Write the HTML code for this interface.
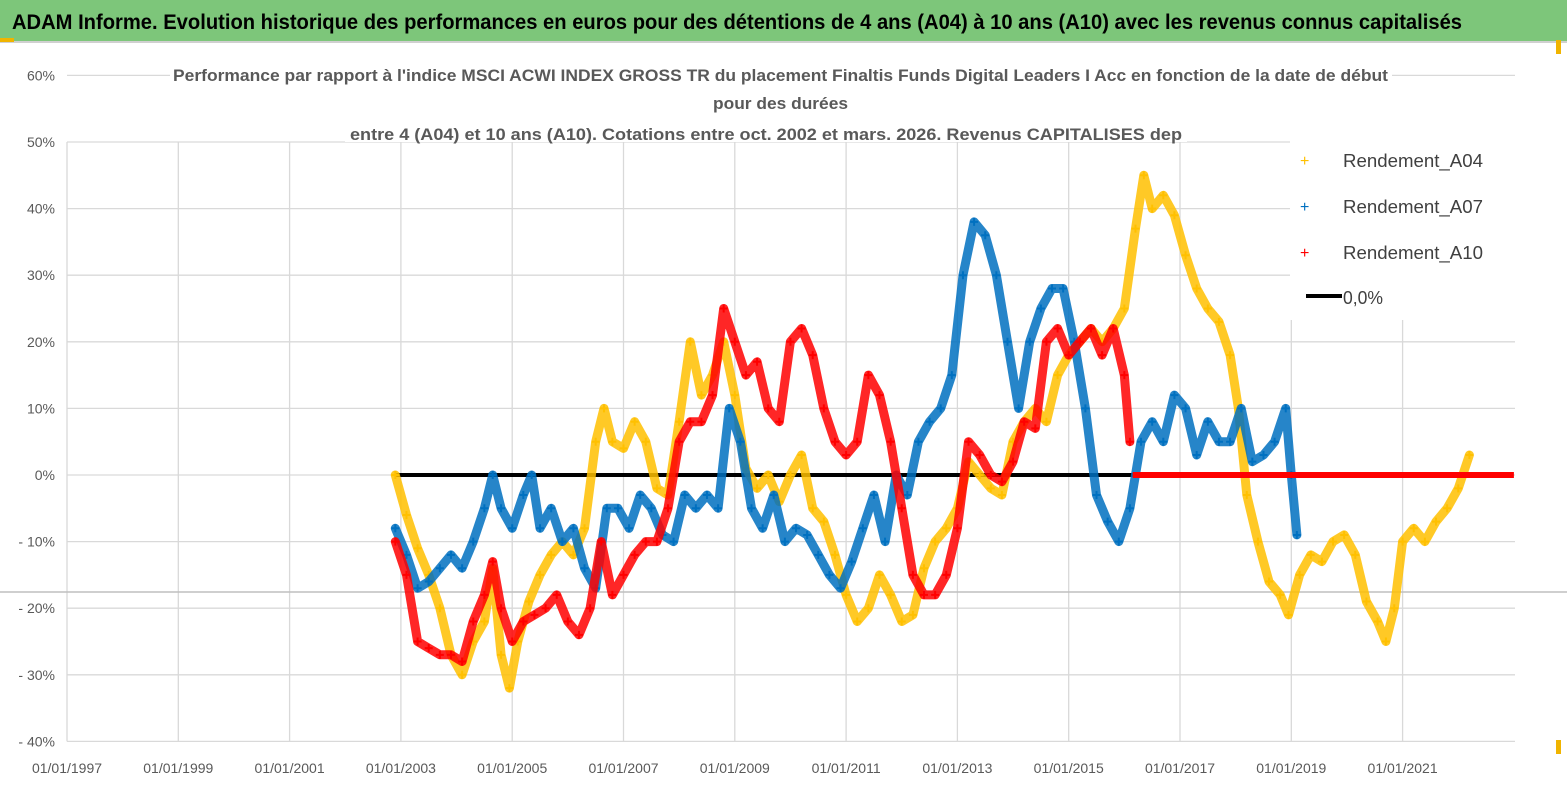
<!DOCTYPE html>
<html><head><meta charset="utf-8"><style>
body{margin:0;background:#fff;width:1567px;height:790px;overflow:hidden;font-family:"Liberation Sans",sans-serif}
svg{display:block}
</style></head><body>
<svg id="chart" width="1567" height="790">
<rect x="0" y="0" width="1567" height="790" fill="#fff"/>
<rect x="0" y="0" width="1567" height="41" fill="#7dc67a"/>
<line x1="0" y1="42" x2="1567" y2="42" stroke="#d0d0d0" stroke-width="2"/>
<rect x="0" y="38" width="14" height="4" fill="#f0b400"/>
<text x="12" y="29" font-size="21" font-weight="bold" fill="#000" textLength="1450" lengthAdjust="spacingAndGlyphs">ADAM Informe. Evolution historique des performances en euros pour des détentions de 4 ans (A04) à 10 ans (A10) avec les revenus connus capitalisés</text>
<g id="grid"></g>
<line x1="0" y1="592" x2="1567" y2="592" stroke="#bfbfbf" stroke-width="1.5"/>
<rect x="170" y="60" width="1222" height="20" fill="#fff"/>
<rect x="700" y="88" width="160" height="22" fill="#fff"/>
<rect x="345" y="120" width="842" height="22" fill="#fff"/>
<text x="173" y="81" font-size="17" font-weight="bold" fill="#595959" textLength="1215" lengthAdjust="spacingAndGlyphs">Performance par rapport à l'indice MSCI ACWI INDEX GROSS TR  du placement Finaltis Funds Digital Leaders I Acc en fonction de la date de début</text>
<text x="713" y="109" font-size="17" font-weight="bold" fill="#595959" textLength="135" lengthAdjust="spacingAndGlyphs">pour des durées</text>
<text x="350" y="140" font-size="17" font-weight="bold" fill="#595959" textLength="832" lengthAdjust="spacingAndGlyphs">entre 4 (A04) et 10 ans (A10). Cotations entre oct. 2002 et mars. 2026. Revenus CAPITALISES dep</text>
<g id="yaxis"></g><g id="xaxis"></g>
<g id="series"></g>
<g id="legend">
<rect x="1290" y="140" width="270" height="180" fill="#fff"/>
<text x="1300" y="166" font-size="16" fill="#ffc000">+</text>
<text x="1343" y="167" font-size="18" fill="#404040" textLength="140" lengthAdjust="spacingAndGlyphs">Rendement_A04</text>
<text x="1300" y="212" font-size="16" fill="#0070c0">+</text>
<text x="1343" y="213" font-size="18" fill="#404040" textLength="140" lengthAdjust="spacingAndGlyphs">Rendement_A07</text>
<text x="1300" y="258" font-size="16" fill="#ff0000">+</text>
<text x="1343" y="259" font-size="18" fill="#404040" textLength="140" lengthAdjust="spacingAndGlyphs">Rendement_A10</text>
<line x1="1306" y1="296" x2="1342" y2="296" stroke="#000" stroke-width="4"/>
<text x="1343" y="304" font-size="18" fill="#404040" textLength="40" lengthAdjust="spacingAndGlyphs">0,0%</text>
</g>
<rect x="1556" y="40" width="5" height="14" fill="#f0b400"/>
<rect x="1556" y="740" width="5" height="14" fill="#f0b400"/>
</svg>
<script>
const xTickYears=[1997,1999,2001,2003,2005,2007,2009,2011,2013,2015,2017,2019,2021];
const yTicks=[60,50,40,30,20,10,0,-10,-20,-30,-40];
const yTickLabels=["60%","50%","40%","30%","20%","10%","0%","-10%","-20%","-30%","-40%"];
const a04Years=[2002.9,2003.1,2003.3,2003.5,2003.7,2003.9,2004.1,2004.3,2004.5,2004.65,2004.8,2004.95,2005.1,2005.3,2005.5,2005.7,2005.9,2006.1,2006.3,2006.5,2006.65,2006.8,2007.0,2007.2,2007.4,2007.6,2007.8,2008.0,2008.2,2008.4,2008.6,2008.8,2009.0,2009.2,2009.4,2009.6,2009.8,2010.0,2010.2,2010.4,2010.6,2010.8,2011.0,2011.2,2011.4,2011.6,2011.8,2012.0,2012.2,2012.4,2012.6,2012.8,2013.0,2013.2,2013.4,2013.6,2013.8,2014.0,2014.2,2014.4,2014.6,2014.8,2015.0,2015.2,2015.4,2015.6,2015.8,2016.0,2016.2,2016.35,2016.5,2016.7,2016.9,2017.1,2017.3,2017.5,2017.7,2017.9,2018.05,2018.2,2018.4,2018.6,2018.8,2018.95,2019.15,2019.35,2019.55,2019.75,2019.95,2020.15,2020.35,2020.55,2020.7,2020.85,2021.0,2021.2,2021.4,2021.6,2021.8,2022.0,2022.2];
const a04Values=[0,-6,-11,-15,-20,-27,-30,-25,-22,-14,-27,-32,-25,-19,-15,-12,-10,-12,-8,5,10,5,4,8,5,-2,-3,8,20,12,15,20,12,1,-2,0,-4,0,3,-5,-7,-12,-18,-22,-20,-15,-18,-22,-21,-14,-10,-8,-5,2,0,-2,-3,5,8,10,8,15,18,20,22,20,22,25,37,45,40,42,39,33,28,25,23,18,10,-3,-10,-16,-18,-21,-15,-12,-13,-10,-9,-12,-19,-22,-25,-20,-10,-8,-10,-7,-5,-2,3];
const a07Years=[2002.9,2003.1,2003.3,2003.5,2003.7,2003.9,2004.1,2004.3,2004.5,2004.65,2004.8,2005.0,2005.2,2005.35,2005.5,2005.7,2005.9,2006.1,2006.3,2006.5,2006.7,2006.9,2007.1,2007.3,2007.5,2007.7,2007.9,2008.1,2008.3,2008.5,2008.7,2008.9,2009.1,2009.3,2009.5,2009.7,2009.9,2010.1,2010.3,2010.5,2010.7,2010.9,2011.1,2011.3,2011.5,2011.7,2011.9,2012.1,2012.3,2012.5,2012.7,2012.9,2013.1,2013.3,2013.5,2013.7,2013.9,2014.1,2014.3,2014.5,2014.7,2014.9,2015.1,2015.3,2015.5,2015.7,2015.9,2016.1,2016.3,2016.5,2016.7,2016.9,2017.1,2017.3,2017.5,2017.7,2017.9,2018.1,2018.3,2018.5,2018.7,2018.9,2019.0,2019.1];
const a07Values=[-8,-12,-17,-16,-14,-12,-14,-10,-5,0,-5,-8,-3,0,-8,-5,-10,-8,-14,-17,-5,-5,-8,-3,-5,-9,-10,-3,-5,-3,-5,10,5,-5,-8,-3,-10,-8,-9,-12,-15,-17,-13,-8,-3,-10,0,-3,5,8,10,15,30,38,36,30,20,10,20,25,28,28,20,10,-3,-7,-10,-5,5,8,5,12,10,3,8,5,5,10,2,3,5,10,0,-9];
const a10Years=[2002.9,2003.1,2003.3,2003.5,2003.7,2003.9,2004.1,2004.3,2004.5,2004.65,2004.8,2005.0,2005.2,2005.4,2005.6,2005.8,2006.0,2006.2,2006.4,2006.6,2006.8,2007.0,2007.2,2007.4,2007.6,2007.8,2008.0,2008.2,2008.4,2008.6,2008.8,2009.0,2009.2,2009.4,2009.6,2009.8,2010.0,2010.2,2010.4,2010.6,2010.8,2011.0,2011.2,2011.4,2011.6,2011.8,2012.0,2012.2,2012.4,2012.6,2012.8,2013.0,2013.2,2013.4,2013.6,2013.8,2014.0,2014.2,2014.4,2014.6,2014.8,2015.0,2015.2,2015.4,2015.6,2015.8,2016.0,2016.1];
const a10Values=[-10,-15,-25,-26,-27,-27,-28,-22,-18,-13,-20,-25,-22,-21,-20,-18,-22,-24,-20,-10,-18,-15,-12,-10,-10,-5,5,8,8,12,25,20,15,17,10,8,20,22,18,10,5,3,5,15,12,5,-5,-15,-18,-18,-15,-8,5,3,0,-1,2,8,7,20,22,18,20,22,18,22,15,5];
const a10ZeroStart=2016.15, a10ZeroEnd=2023.0;
const zeroLineStart=2002.9, zeroLineEnd=2016.15;

const NS="http://www.w3.org/2000/svg";
function X(yr){return 67+(yr-1997)*55.65;}
function Y(v){return 475-v*6.66;}
function mk(tag,attrs,parent){const e=document.createElementNS(NS,tag);for(const k in attrs)e.setAttribute(k,attrs[k]);parent.appendChild(e);return e;}
const grid=document.getElementById('grid'),yax=document.getElementById('yaxis'),xax=document.getElementById('xaxis'),ser=document.getElementById('series');
yTicks.forEach((t,i)=>{
  const l=mk('line',{x1:X(1997),x2:1515,y1:Y(t),y2:Y(t),stroke:'#d9d9d9','stroke-width':1.3},grid);
  
  
  const tx=mk('text',{x:55,y:Y(t)+5,'font-size':14,fill:'#595959','text-anchor':'end'},yax);
  tx.textContent=yTickLabels[i].replace('-','- ');
  
  
});
xTickYears.forEach(yr=>{
  const l=mk('line',{x1:X(yr),x2:X(yr),y1:Y(50),y2:Y(-40),stroke:'#d9d9d9','stroke-width':1.3},grid);
  
  
  const tx=mk('text',{x:X(yr),y:773,'font-size':14,fill:'#595959','text-anchor':'middle'},xax);
  tx.textContent='01/01/'+yr;
  
  
});
const zl=mk('line',{x1:X(zeroLineStart),x2:X(zeroLineEnd),y1:Y(0),y2:Y(0),stroke:'#000','stroke-width':4},ser);


function drawSeries(years,vals,color,name){
  const g=mk('g',{},ser);
  
  
  const pts=years.map((y,i)=>X(y).toFixed(1)+','+Y(vals[i]).toFixed(1)).join(' ');
  mk('polyline',{points:pts,fill:'none',stroke:color,'stroke-width':9,'stroke-linejoin':'round','stroke-linecap':'round','stroke-opacity':0.85},g);
  years.forEach((y,i)=>{
    const cx=X(y),cy=Y(vals[i]);
    const p=mk('path',{d:`M${cx-4},${cy}h8M${cx},${cy-4}v8`,stroke:color,'stroke-width':2},g);
    
    
  });
}
drawSeries(a04Years,a04Values,'#ffc000','series-a04');
drawSeries(a07Years,a07Values,'#0070c0','series-a07');
drawSeries(a10Years,a10Values,'#ff0000','series-a10');
const rz=mk('line',{x1:X(a10ZeroStart),x2:X(a10ZeroEnd),y1:Y(0),y2:Y(0),stroke:'#ff0000','stroke-width':6},ser);


</script>
</body></html>
